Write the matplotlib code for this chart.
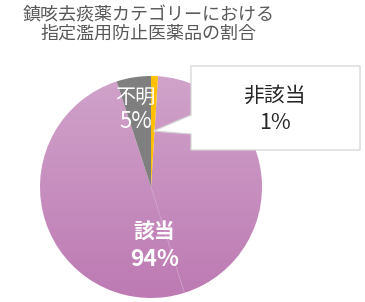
import matplotlib
matplotlib.use("Agg")
import matplotlib.pyplot as plt
import numpy as np
from matplotlib.patches import Polygon
from matplotlib.colors import LinearSegmentedColormap

plt.rcParams['font.family'] = ['Noto Sans CJK JP', 'DejaVu Sans']

title_lines = ["鎮咳去痰薬カテゴリーにおける", "指定濫用防止医薬品の割合"]
categories = ["非該当", "該当", "不明"]
values = [1, 94, 5]
colors = ["#ffc000", "#c890c0", "#7f7f7f"]

W, H = 365, 302
fig = plt.figure(figsize=(W / 100, H / 100), dpi=100)
ax = fig.add_axes([0, 0, 1, 1])

cx, cy, r = 151, H - 187, 111
wedges, _ = ax.pie(values, startangle=90, counterclock=False, colors=colors,
                   center=(cx, cy), radius=r,
                   wedgeprops=dict(linewidth=0))

# gradient fill for the large pink slice
pink = wedges[1]
pink.set_facecolor("none")
cmap = LinearSegmentedColormap.from_list("pk", ["#bd7ab3", "#d0a3ca"])
grad = np.linspace(0, 1, 256).reshape(-1, 1)
im = ax.imshow(grad, cmap=cmap, extent=(cx - r, cx + r, cy - r, cy + r),
               origin="lower", aspect="auto", zorder=1)
im.set_clip_path(pink)
for w in (wedges[0], wedges[2]):
    w.set_zorder(2)

# faint seam inside the pink slice
ang = np.deg2rad(-72.5)
ax.plot([cx, cx + r * np.cos(ang)], [cy, cy + r * np.sin(ang)],
        color="#d8b0d2", lw=0.6, alpha=0.7, zorder=2)

# callout box
box = [(191, 66), (360, 66), (360, 150), (191, 150), (191, 134), (153.5, 131), (191, 115)]
poly = Polygon([(x, H - y) for x, y in box], closed=True, facecolor="white",
               edgecolor="#d4d4d4", linewidth=0.9, zorder=5)
ax.add_patch(poly)

ax.text(275, H - 96, categories[0], ha="center", va="center", fontsize=15,
        color="#262626", zorder=6)
ax.text(275, H - 123, f"{values[0]}%", ha="center", va="center", fontsize=15.5,
        color="#262626", zorder=6)

ax.text(135.5, H - 97, categories[2], ha="center", va="center", fontsize=14.5,
        color="white", zorder=6)
ax.text(135.5, H - 121.5, f"{values[2]}%", ha="center", va="center", fontsize=16,
        color="white", zorder=6)

ax.text(154, H - 232, categories[1], ha="center", va="center", fontsize=15,
        color="white", fontweight="bold", zorder=6)
ax.text(155, H - 259, f"{values[1]}%", ha="center", va="center", fontsize=16.5,
        color="white", fontweight="bold", zorder=6)

ax.text(148.5, H - 15, title_lines[0], ha="center", va="center", fontsize=13,
        color="#595959")
ax.text(148.5, H - 34, title_lines[1], ha="center", va="center", fontsize=13,
        color="#595959")

ax.set_xlim(0, W)
ax.set_ylim(0, H)
ax.set_aspect("auto")
ax.axis("off")
fig.savefig("out.png", dpi=100, facecolor="white")
